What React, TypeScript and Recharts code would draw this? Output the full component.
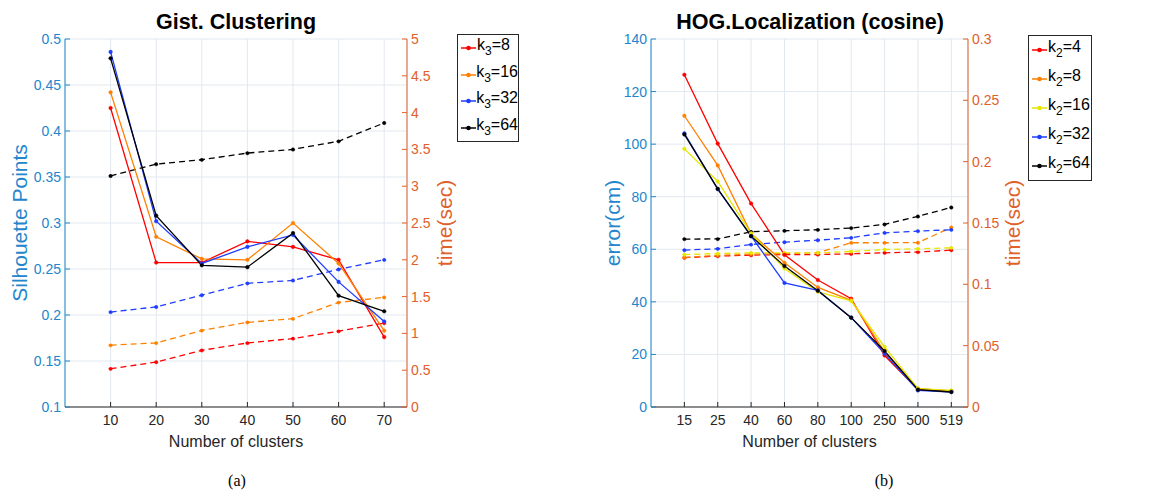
import { LineChart, Line, XAxis, YAxis, CartesianGrid } from "recharts";

// ---- (a) Gist. Clustering ----
const gistClusters = [10, 20, 30, 40, 50, 60, 70];
const gistSil8 = [0.425, 0.257, 0.257, 0.28, 0.274, 0.26, 0.176];
const gistSil16 = [0.442, 0.285, 0.261, 0.26, 0.3, 0.256, 0.183];
const gistSil32 = [0.486, 0.302, 0.256, 0.274, 0.287, 0.236, 0.193];
const gistSil64 = [0.479, 0.308, 0.254, 0.252, 0.289, 0.221, 0.204];
const gistTime8 = [0.52, 0.61, 0.77, 0.87, 0.93, 1.03, 1.14];
const gistTime16 = [0.84, 0.87, 1.04, 1.15, 1.2, 1.42, 1.49];
const gistTime32 = [1.29, 1.36, 1.52, 1.68, 1.72, 1.87, 2.0];
const gistTime64 = [3.14, 3.3, 3.36, 3.45, 3.5, 3.61, 3.86];
const gistSilTicks = [0.1, 0.15, 0.2, 0.25, 0.3, 0.35, 0.4, 0.45, 0.5];
const gistTimeTicks = [0, 0.5, 1, 1.5, 2, 2.5, 3, 3.5, 4, 4.5, 5];
const gistK = ["8", "16", "32", "64"];

// ---- (b) HOG.Localization (cosine) ----
const hogClusters = ["15", "25", "40", "60", "80", "100", "250", "500", "519"];
const hogErr4 = [126.4, 100.2, 77.4, 57.9, 48.3, 41.2, 19.6, 6.6, 6.0];
const hogErr8 = [110.8, 91.9, 66.0, 54.9, 45.5, 40.6, 21.0, 7.0, 6.1];
const hogErr16 = [98.2, 85.8, 66.0, 52.7, 43.8, 40.4, 22.9, 7.0, 6.3];
const hogErr32 = [104.1, 82.9, 65.0, 47.2, 44.4, 34.0, 20.3, 6.3, 5.7];
const hogErr64 = [103.7, 83.0, 65.0, 53.6, 44.2, 34.0, 21.3, 6.6, 5.7];
const hogTime4 = [0.1217, 0.123, 0.1238, 0.1243, 0.1243, 0.1249, 0.1257, 0.1263, 0.1279];
const hogTime8 = [0.1219, 0.1236, 0.1246, 0.1251, 0.1257, 0.1339, 0.1339, 0.134, 0.1464];
const hogTime16 = [0.1243, 0.1251, 0.1257, 0.1257, 0.1257, 0.1268, 0.1284, 0.129, 0.1298];
const hogTime32 = [0.1279, 0.129, 0.1325, 0.1344, 0.136, 0.138, 0.142, 0.1434, 0.1445];
const hogTime64 = [0.1369, 0.137, 0.1429, 0.1437, 0.1445, 0.1459, 0.1489, 0.1554, 0.1627];
const hogErrTicks = [0, 20, 40, 60, 80, 100, 120, 140];
const hogTimeTicks = [0, 0.05, 0.1, 0.15, 0.2, 0.25, 0.3];
const hogK = ["4", "8", "16", "32", "64"];

const BLUE = "#2386cc";
const ORANGE = "#e0602a";
const AXIS = "#262626";
const GRID = "#e2e8ef";
const FONT = '"Liberation Sans", Arial, sans-serif';

const gistColors = ["#ff0000", "#ff8000", "#1f3dff", "#000000"];
const hogColors = ["#ff0000", "#ff8000", "#e6e600", "#1f3dff", "#000000"];

const gistData = gistClusters.map((c, i) => ({
  x: c,
  s8: gistSil8[i], s16: gistSil16[i], s32: gistSil32[i], s64: gistSil64[i],
  t8: gistTime8[i], t16: gistTime16[i], t32: gistTime32[i], t64: gistTime64[i],
}));

const hogData = hogClusters.map((_, i) => ({
  idx: i,
  e4: hogErr4[i], e8: hogErr8[i], e16: hogErr16[i], e32: hogErr32[i], e64: hogErr64[i],
  t4: hogTime4[i], t8: hogTime8[i], t16: hogTime16[i], t32: hogTime32[i], t64: hogTime64[i],
}));

const fmt = (v: number) => String(Math.round(v * 1000) / 1000);

function series(key: string, color: string, axis: string, dashed: boolean) {
  return (
    <Line
      key={key}
      yAxisId={axis}
      dataKey={key}
      stroke={color}
      strokeWidth={1.3}
      strokeDasharray={dashed ? "6 4" : undefined}
      dot={{ r: 1.8, fill: color, stroke: color, strokeWidth: 0.5 }}
      activeDot={false}
      isAnimationActive={false}
    />
  );
}

function LegendBox({ left, top, width, rowH, sub, keys, colors }: any) {
  return (
    <div
      style={{
        position: "absolute", left, top, width, boxSizing: "border-box",
        border: `1px solid ${AXIS}`, background: "#fff", fontFamily: FONT,
      }}
    >
      {keys.map((k: string, i: number) => (
        <div key={k} style={{ height: rowH, display: "flex", alignItems: "center", fontSize: 16, color: "#000" }}>
          <svg width={17} height={10} style={{ marginLeft: 2 }}>
            <line x1={1} y1={5} x2={16} y2={5} stroke={colors[i]} strokeWidth={1.5} />
            <circle cx={8.5} cy={5} r={2.3} fill={colors[i]} />
          </svg>
          <span style={{ position: "relative", top: -3, whiteSpace: "nowrap" }}>
            k<sub style={{ fontSize: 12, verticalAlign: "-5px", lineHeight: 0 }}>{sub}</sub>={k}
          </span>
        </div>
      ))}
    </div>
  );
}

const titleStyle = (left: number, width: number): any => ({
  position: "absolute", left, top: 11, width, textAlign: "center",
  fontSize: 21.5, lineHeight: "22px", fontWeight: "bold", color: "#000", fontFamily: FONT,
});

const capStyle = (cx: number): any => ({
  position: "absolute", left: cx - 30, top: 471, width: 60, textAlign: "center",
  fontSize: 16, lineHeight: "20px", fontFamily: '"Liberation Serif", "Times New Roman", serif', color: "#000",
});

const tickL = { fontSize: 14, fill: BLUE };
const tickR = { fontSize: 14, fill: ORANGE };
const tickX = { fontSize: 14, fill: AXIS };

export default function App() {
  return (
    <div style={{ position: "absolute", left: 0, top: 0, width: 1158, height: 495, background: "#fff", fontFamily: FONT }}>
      <div style={titleStyle(136, 200)}>Gist. Clustering</div>
      <div style={titleStyle(660, 300)}>HOG.Localization (cosine)</div>

      <div style={{ position: "absolute", left: 0, top: 0 }}>
        <LineChart width={470} height={460} data={gistData} margin={{ top: 39, right: 20, left: 12, bottom: 10 }}>
          <CartesianGrid yAxisId="l" stroke={GRID} strokeWidth={1} />
          <XAxis
            dataKey="x" type="number" domain={[0, 75]} ticks={gistClusters} height={43}
            tick={tickX} tickSize={-5} tickMargin={13} stroke={AXIS}
            label={{ value: "Number of clusters", position: "insideBottom", offset: 3, fill: AXIS, fontSize: 16 }}
          />
          <YAxis
            yAxisId="l" domain={[0.1, 0.5]} ticks={gistSilTicks} tickFormatter={fmt} width={53}
            tick={tickL} tickSize={-5} tickMargin={9} stroke={BLUE}
            label={{ value: "Silhouette Points", angle: -90, position: "insideLeft", offset: 8, fill: BLUE, fontSize: 21, style: { textAnchor: "middle" } }}
          />
          <YAxis
            yAxisId="r" orientation="right" domain={[0, 5]} ticks={gistTimeTicks} tickFormatter={fmt} width={43}
            tick={tickR} tickSize={-5} tickMargin={9} stroke={ORANGE}
            label={{ value: "time(sec)", angle: -90, position: "insideRight", offset: 5, fill: ORANGE, fontSize: 21, style: { textAnchor: "middle" } }}
          />
          {gistK.map((k, i) => series("t" + k, gistColors[i], "r", true))}
          {gistK.map((k, i) => series("s" + k, gistColors[i], "l", false))}
        </LineChart>
      </div>

      <div style={{ position: "absolute", left: 570, top: 0 }}>
        <LineChart width={470} height={460} data={hogData} margin={{ top: 39, right: 22, left: 30, bottom: 10 }}>
          <CartesianGrid yAxisId="l" stroke={GRID} strokeWidth={1} />
          <XAxis
            dataKey="idx" type="number" domain={[-1, 8.5]} ticks={hogClusters.map((_, i) => i)}
            tickFormatter={(v: number) => hogClusters[v] ?? ""} height={43}
            tick={tickX} tickSize={-5} tickMargin={13} stroke={AXIS} interval={0}
            label={{ value: "Number of clusters", position: "insideBottom", offset: 3, fill: AXIS, fontSize: 16 }}
          />
          <YAxis
            yAxisId="l" domain={[0, 140]} ticks={hogErrTicks} width={51}
            tick={tickL} tickSize={-5} tickMargin={9} stroke={BLUE}
            label={{ value: "error(cm)", angle: -90, position: "insideLeft", offset: 13, fill: BLUE, fontSize: 21, style: { textAnchor: "middle" } }}
          />
          <YAxis
            yAxisId="r" orientation="right" domain={[0, 0.3]} ticks={hogTimeTicks} tickFormatter={fmt} width={50}
            tick={tickR} tickSize={-5} tickMargin={9} stroke={ORANGE}
            label={{ value: "time(sec)", angle: -90, position: "insideRight", offset: 5, fill: ORANGE, fontSize: 21, style: { textAnchor: "middle" } }}
          />
          {hogK.map((k, i) => series("t" + k, hogColors[i], "r", true))}
          {hogK.map((k, i) => series("e" + k, hogColors[i], "l", false))}
        </LineChart>
      </div>

      <LegendBox left={457} top={34} width={62} rowH={26.5} sub="3" keys={gistK} colors={gistColors} />
      <LegendBox left={1028} top={35} width={64} rowH={28.8} sub="2" keys={hogK} colors={hogColors} />

      <div style={capStyle(237)}>(a)</div>
      <div style={capStyle(884)}>(b)</div>
    </div>
  );
}
